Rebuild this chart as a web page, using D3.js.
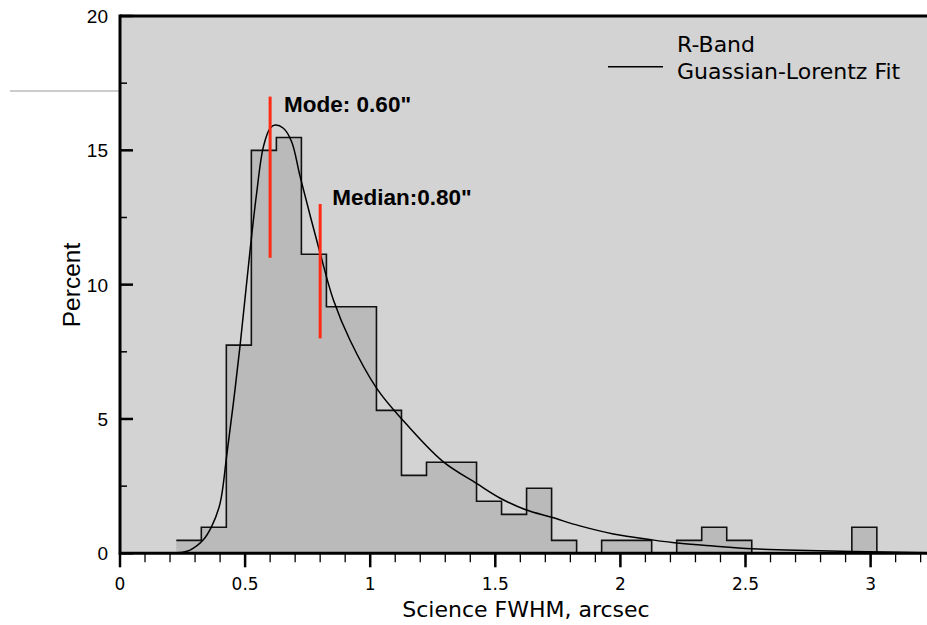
<!DOCTYPE html>
<html lang="en">
<head>
<meta charset="utf-8" />
<title>Science FWHM histogram</title>
<style>
  body { margin: 0; background: #fff; }
  svg { display: block; }
</style>
</head>
<body>
<div id="chart"></div>
<script src="https://cdnjs.cloudflare.com/ajax/libs/d3/7.4.4/d3.min.js"></script>
<script type="text/javascript">

// histogram bins (left edge, arcsec) and percent in each bin
var binLeft = [0.225, 0.325, 0.425, 0.525, 0.625, 0.725, 0.825, 0.925, 1.025, 1.125,
               1.225, 1.325, 1.425, 1.525, 1.625, 1.725, 1.825, 1.925, 2.025, 2.125,
               2.225, 2.325, 2.425, 2.525, 2.625, 2.725, 2.825, 2.925, 3.025];
var binPct  = [0.48, 0.97, 7.75, 15.0, 15.48, 11.13, 9.18, 9.18, 5.32, 2.9,
               3.39, 3.39, 1.94, 1.45, 2.42, 0.48, 0, 0.48, 0.48, 0,
               0.48, 0.97, 0.48, 0, 0, 0, 0, 0.97, 0];

// Gaussian-Lorentz fit
var fitX = [0.23, 0.28, 0.333, 0.366, 0.40, 0.426, 0.453, 0.48, 0.52, 0.546, 0.573, 0.60,
            0.62, 0.653, 0.686, 0.72, 0.80, 0.853, 0.919, 1.026, 1.126, 1.29, 1.425, 1.52,
            1.625, 1.725, 1.838, 1.972, 2.127, 2.238, 2.371, 2.527, 2.704, 2.927, 3.225];
var fitY = [0.02, 0.12, 0.5, 0.99, 1.86, 3.6, 5.58, 7.74, 11.29, 13.4, 15.13, 15.82,
            15.94, 15.82, 15.32, 14.02, 11.17, 9.43, 7.94, 6.14, 5.0, 3.42, 2.6, 2.05,
            1.61, 1.34, 1.02, 0.72, 0.5, 0.37, 0.27, 0.17, 0.11, 0.07, 0.02];

// red marker lines: position and extent in percent
var markerX = [0.60, 0.80];
var markerLo = [11, 8];
var markerHi = [17, 13];
var markerText = ["Mode: 0.60\"", "Median:0.80\""];

var xTicks = [0, 0.5, 1, 1.5, 2, 2.5, 3];
var yTicks = [0, 5, 10, 15, 20];
var legendLabels = ["R-Band", "Guassian-Lorentz Fit"];

var W = 927, H = 625;
var plotLeft = 120, plotTop = 16, plotBottom = 553.3;

var svg = d3.select("#chart").append("svg")
    .attr("width", W)
    .attr("height", H);

var x = d3.scaleLinear().domain([0, 3.4]).range([plotLeft, plotLeft + 250.2 * 3.4]);
var y = d3.scaleLinear().domain([0, 20]).range([plotBottom, plotTop]);

// plot background
svg.append("rect")
    .attr("x", plotLeft).attr("y", plotTop)
    .attr("width", W - plotLeft).attr("height", plotBottom - plotTop)
    .attr("fill", "#d3d3d3");

// stray grey line at the left
svg.append("line")
    .attr("x1", 10).attr("x2", plotLeft)
    .attr("y1", 91).attr("y2", 91)
    .attr("stroke", "#999").attr("stroke-width", 1);

var bins = binLeft.map(function (d, i) { return { x: d, v: binPct[i] }; });

svg.append("path")
    .datum(bins)
    .attr("fill", "#bababa")
    .attr("d", d3.area()
        .x(function (d) { return x(d.x); })
        .y0(y(0))
        .y1(function (d) { return y(d.v); })
        .curve(d3.curveStepAfter));

svg.append("path")
    .datum(bins)
    .attr("fill", "none")
    .attr("stroke", "#111")
    .attr("stroke-width", 1.6)
    .attr("d", d3.line()
        .x(function (d) { return x(d.x); })
        .y(function (d) { return y(d.v); })
        .curve(d3.curveStepAfter));

// fit curve
var fit = fitX.map(function (d, i) { return [d, fitY[i]]; });
svg.append("path")
    .datum(fit)
    .attr("fill", "none")
    .attr("stroke", "#000")
    .attr("stroke-width", 1.5)
    .attr("d", d3.line()
        .x(function (d) { return x(d[0]); })
        .y(function (d) { return y(d[1]); })
        .curve(d3.curveCatmullRom));

// mode / median markers
svg.selectAll(".marker")
    .data(markerX)
    .enter().append("line")
    .attr("class", "marker")
    .attr("x1", function (d) { return x(d); })
    .attr("x2", function (d) { return x(d); })
    .attr("y1", function (d, i) { return y(markerLo[i]); })
    .attr("y2", function (d, i) { return y(markerHi[i]); })
    .attr("stroke", "#ff2a14")
    .attr("stroke-width", 3);

svg.selectAll(".markerText")
    .data(markerText)
    .enter().append("text")
    .attr("class", "markerText")
    .attr("x", function (d, i) { return x(markerX[i]) + [14, 12][i]; })
    .attr("y", function (d, i) { return [112, 205][i]; })
    .attr("font-family", "'Liberation Sans', Arial, sans-serif")
    .attr("font-weight", "bold")
    .attr("font-size", "22.5px")
    .attr("fill", "#000")
    .text(function (d) { return d; });

// x axis
var xAxis = svg.append("g")
    .attr("transform", "translate(0," + plotBottom + ")");
xAxis.append("line")
    .attr("x1", plotLeft).attr("x2", W)
    .attr("stroke", "#000").attr("stroke-width", 3);
var xMinor = d3.range(1, 33).map(function (k) { return k / 10; });
xAxis.selectAll(".minor")
    .data(xMinor)
    .enter().append("line")
    .attr("x1", function (d) { return x(d); })
    .attr("x2", function (d) { return x(d); })
    .attr("y1", 0).attr("y2", 9)
    .attr("stroke", "#000").attr("stroke-width", 1.3);
xAxis.selectAll(".major")
    .data(xTicks)
    .enter().append("line")
    .attr("x1", function (d) { return x(d); })
    .attr("x2", function (d) { return x(d); })
    .attr("y1", 0).attr("y2", 14)
    .attr("stroke", "#000").attr("stroke-width", 2.5);
xAxis.selectAll(".xlab")
    .data(xTicks)
    .enter().append("text")
    .attr("x", function (d) { return x(d); })
    .attr("y", 37)
    .attr("text-anchor", "middle")
    .attr("font-family", "'DejaVu Sans', Verdana, sans-serif")
    .attr("font-size", "17px")
    .attr("fill", "#000")
    .text(function (d) { return d; });

// y axis
var yAxis = svg.append("g");
yAxis.append("line")
    .attr("x1", plotLeft).attr("x2", plotLeft)
    .attr("y1", plotTop - 1.5).attr("y2", plotBottom + 1.5)
    .attr("stroke", "#000").attr("stroke-width", 3);
yAxis.append("line")
    .attr("x1", plotLeft).attr("x2", W)
    .attr("y1", plotTop).attr("y2", plotTop)
    .attr("stroke", "#000").attr("stroke-width", 3);
yAxis.selectAll(".minor")
    .data([2.5, 7.5, 12.5, 17.5])
    .enter().append("line")
    .attr("x1", plotLeft).attr("x2", plotLeft + 7)
    .attr("y1", function (d) { return y(d); })
    .attr("y2", function (d) { return y(d); })
    .attr("stroke", "#000").attr("stroke-width", 1.5);
yAxis.selectAll(".major")
    .data(yTicks)
    .enter().append("line")
    .attr("x1", plotLeft).attr("x2", plotLeft + 13)
    .attr("y1", function (d) { return y(d); })
    .attr("y2", function (d) { return y(d); })
    .attr("stroke", "#000").attr("stroke-width", 2.5);
yAxis.selectAll(".ylab")
    .data(yTicks)
    .enter().append("text")
    .attr("x", 108)
    .attr("y", function (d) { return y(d) + 7; })
    .attr("text-anchor", "end")
    .attr("font-family", "'Liberation Sans', Arial, sans-serif")
    .attr("font-size", "19px")
    .attr("fill", "#000")
    .text(function (d) { return d; });

// axis titles
svg.append("text")
    .attr("x", 526).attr("y", 617)
    .attr("text-anchor", "middle")
    .attr("font-family", "'DejaVu Sans', Verdana, sans-serif")
    .attr("font-size", "22px")
    .attr("fill", "#000")
    .text("Science FWHM, arcsec");

svg.append("text")
    .attr("transform", "translate(80,285) rotate(-90)")
    .attr("text-anchor", "middle")
    .attr("font-family", "'Liberation Sans', Arial, sans-serif")
    .attr("font-size", "24.5px")
    .attr("fill", "#000")
    .text("Percent");

// legend
svg.append("line")
    .attr("x1", 608).attr("x2", 663)
    .attr("y1", 66.7).attr("y2", 66.7)
    .attr("stroke", "#000").attr("stroke-width", 1.5);
svg.selectAll(".legend")
    .data(legendLabels)
    .enter().append("text")
    .attr("x", 677)
    .attr("y", function (d, i) { return [52, 79][i]; })
    .attr("font-family", "'DejaVu Sans', Verdana, sans-serif")
    .attr("font-size", "22px")
    .attr("fill", "#000")
    .text(function (d) { return d; });

</script>
</body>
</html>
